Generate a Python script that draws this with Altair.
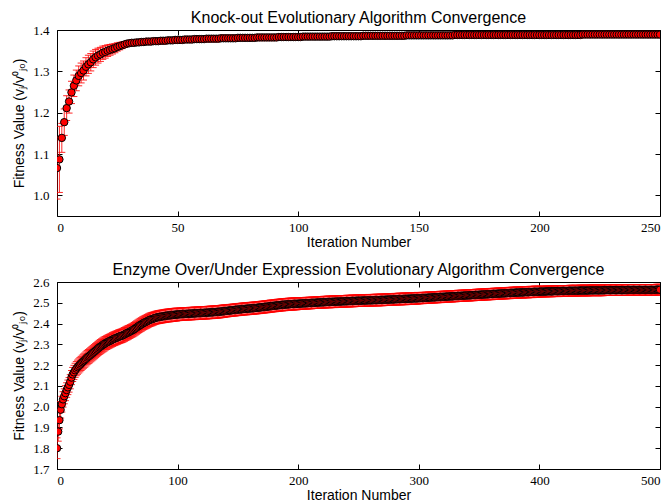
import altair as alt
import pandas as pd

# ---------------- Knock-out panel ----------------
ko_iter = list(range(251))
ko_fitness = [
    1.066, 1.087, 1.139, 1.177, 1.211, 1.227, 1.249, 1.265, 1.278, 1.289,
    1.296, 1.302, 1.311, 1.317, 1.322, 1.329, 1.334, 1.338, 1.341, 1.345,
    1.347, 1.350, 1.352, 1.354, 1.356, 1.359, 1.361, 1.363, 1.365, 1.367,
    1.368, 1.369, 1.369, 1.370, 1.370, 1.371, 1.371, 1.372, 1.372, 1.372,
    1.373, 1.373, 1.373, 1.374, 1.374, 1.374, 1.375, 1.375, 1.375, 1.376,
    1.376, 1.376, 1.376, 1.377, 1.377, 1.377, 1.377, 1.378, 1.378, 1.378,
    1.378, 1.378, 1.379, 1.379, 1.379, 1.379, 1.379, 1.379, 1.380, 1.380,
    1.380, 1.380, 1.380, 1.380, 1.380, 1.381, 1.381, 1.381, 1.381, 1.381,
    1.381, 1.381, 1.381, 1.382, 1.382, 1.382, 1.382, 1.382, 1.382, 1.382,
    1.382, 1.382, 1.383, 1.383, 1.383, 1.383, 1.383, 1.383, 1.383, 1.383,
    1.383, 1.383, 1.384, 1.384, 1.384, 1.384, 1.384, 1.384, 1.384, 1.384,
    1.384, 1.384, 1.384, 1.384, 1.385, 1.385, 1.385, 1.385, 1.385, 1.385,
    1.385, 1.385, 1.385, 1.385, 1.385, 1.385, 1.385, 1.386, 1.386, 1.386,
    1.386, 1.386, 1.386, 1.386, 1.386, 1.386, 1.386, 1.386, 1.386, 1.386,
    1.386, 1.386, 1.386, 1.386, 1.386, 1.387, 1.387, 1.387, 1.387, 1.387,
    1.387, 1.387, 1.387, 1.387, 1.387, 1.387, 1.387, 1.387, 1.387, 1.387,
    1.387, 1.387, 1.387, 1.387, 1.387, 1.388, 1.388, 1.388, 1.388, 1.388,
    1.388, 1.388, 1.388, 1.388, 1.388, 1.388, 1.388, 1.388, 1.388, 1.388,
    1.388, 1.388, 1.388, 1.388, 1.388, 1.388, 1.388, 1.388, 1.388, 1.388,
    1.388, 1.388, 1.388, 1.388, 1.388, 1.388, 1.388, 1.388, 1.388, 1.388,
    1.388, 1.388, 1.388, 1.388, 1.388, 1.388, 1.388, 1.388, 1.388, 1.388,
    1.388, 1.388, 1.388, 1.388, 1.388, 1.388, 1.388, 1.388, 1.389, 1.389,
    1.389, 1.389, 1.389, 1.389, 1.389, 1.389, 1.389, 1.389, 1.389, 1.389,
    1.389, 1.389, 1.389, 1.389, 1.389, 1.389, 1.389, 1.389, 1.389, 1.389,
    1.389, 1.389, 1.389, 1.389, 1.389, 1.389, 1.389, 1.389, 1.389, 1.389,
    1.389,
]
ko_err = [
    0.075, 0.080, 0.035, 0.032, 0.030, 0.028, 0.027, 0.026, 0.025, 0.024,
    0.024, 0.023, 0.022, 0.022, 0.021, 0.020, 0.019, 0.018, 0.017, 0.016,
    0.015, 0.014, 0.013, 0.012, 0.011, 0.010, 0.009, 0.008, 0.007, 0.006,
    0.006, 0.005, 0.005, 0.005, 0.004, 0.004, 0.004, 0.004, 0.004, 0.004,
    0.003, 0.003, 0.003, 0.003, 0.003, 0.003, 0.003, 0.003, 0.003, 0.003,
    0.003, 0.003, 0.003, 0.003, 0.003, 0.003, 0.003, 0.003, 0.003, 0.003,
    0.003, 0.003, 0.003, 0.003, 0.003, 0.003, 0.003, 0.003, 0.003, 0.003,
    0.003, 0.003, 0.003, 0.003, 0.003, 0.003, 0.003, 0.003, 0.003, 0.003,
    0.003, 0.003, 0.003, 0.003, 0.003, 0.003, 0.003, 0.003, 0.003, 0.003,
    0.003, 0.003, 0.003, 0.003, 0.003, 0.003, 0.003, 0.003, 0.003, 0.003,
    0.002, 0.002, 0.002, 0.002, 0.002, 0.002, 0.002, 0.002, 0.002, 0.002,
    0.002, 0.002, 0.002, 0.002, 0.002, 0.002, 0.002, 0.002, 0.002, 0.002,
    0.002, 0.002, 0.002, 0.002, 0.002, 0.002, 0.002, 0.002, 0.002, 0.002,
    0.002, 0.002, 0.002, 0.002, 0.002, 0.002, 0.002, 0.002, 0.002, 0.002,
    0.002, 0.002, 0.002, 0.002, 0.002, 0.002, 0.002, 0.002, 0.002, 0.002,
    0.002, 0.002, 0.002, 0.002, 0.002, 0.002, 0.002, 0.002, 0.002, 0.002,
    0.002, 0.002, 0.002, 0.002, 0.002, 0.002, 0.002, 0.002, 0.002, 0.002,
    0.002, 0.002, 0.002, 0.002, 0.002, 0.002, 0.002, 0.002, 0.002, 0.002,
    0.002, 0.002, 0.002, 0.002, 0.002, 0.002, 0.002, 0.002, 0.002, 0.002,
    0.002, 0.002, 0.002, 0.002, 0.002, 0.002, 0.002, 0.002, 0.002, 0.002,
    0.002, 0.002, 0.002, 0.002, 0.002, 0.002, 0.002, 0.002, 0.002, 0.002,
    0.002, 0.002, 0.002, 0.002, 0.002, 0.002, 0.002, 0.002, 0.002, 0.002,
    0.002, 0.002, 0.002, 0.002, 0.002, 0.002, 0.002, 0.002, 0.002, 0.002,
    0.002, 0.002, 0.002, 0.002, 0.002, 0.002, 0.002, 0.002, 0.002, 0.002,
    0.002, 0.002, 0.002, 0.002, 0.002, 0.002, 0.002, 0.002, 0.002, 0.002,
    0.002,
]
ko_xticks = [0, 50, 100, 150, 200, 250]
ko_yticks = [1.0, 1.1, 1.2, 1.3, 1.4]

# ---------------- Enzyme expression panel ----------------
ee_iter = list(range(501))
ee_fitness = [
    1.800, 1.880, 1.935, 1.985, 2.012, 2.035, 2.050, 2.065, 2.080, 2.093,
    2.105, 2.120, 2.140, 2.155, 2.165, 2.175, 2.183, 2.190, 2.196, 2.202,
    2.208, 2.214, 2.219, 2.224, 2.230, 2.236, 2.241, 2.245, 2.250, 2.255,
    2.260, 2.265, 2.270, 2.275, 2.280, 2.285, 2.289, 2.293, 2.297, 2.301,
    2.305, 2.308, 2.311, 2.314, 2.317, 2.320, 2.323, 2.326, 2.328, 2.331,
    2.333, 2.336, 2.338, 2.340, 2.342, 2.345, 2.348, 2.351, 2.354, 2.357,
    2.360, 2.363, 2.366, 2.369, 2.373, 2.377, 2.381, 2.385, 2.389, 2.393,
    2.396, 2.400, 2.403, 2.406, 2.409, 2.412, 2.415, 2.418, 2.420, 2.422,
    2.424, 2.426, 2.428, 2.430, 2.431, 2.432, 2.433, 2.434, 2.435, 2.436,
    2.437, 2.438, 2.439, 2.439, 2.440, 2.441, 2.441, 2.442, 2.443, 2.443,
    2.444, 2.444, 2.445, 2.445, 2.446, 2.446, 2.446, 2.447, 2.447, 2.447,
    2.448, 2.448, 2.448, 2.449, 2.449, 2.449, 2.450, 2.450, 2.450, 2.451,
    2.451, 2.451, 2.452, 2.452, 2.452, 2.453, 2.453, 2.454, 2.454, 2.454,
    2.455, 2.455, 2.456, 2.456, 2.457, 2.457, 2.458, 2.459, 2.459, 2.460,
    2.461, 2.461, 2.462, 2.463, 2.463, 2.464, 2.465, 2.465, 2.466, 2.467,
    2.467, 2.468, 2.468, 2.469, 2.470, 2.470, 2.471, 2.471, 2.472, 2.472,
    2.473, 2.473, 2.474, 2.474, 2.475, 2.475, 2.476, 2.477, 2.477, 2.478,
    2.479, 2.479, 2.480, 2.481, 2.481, 2.482, 2.483, 2.484, 2.484, 2.485,
    2.486, 2.486, 2.487, 2.488, 2.488, 2.489, 2.490, 2.490, 2.491, 2.491,
    2.492, 2.492, 2.493, 2.493, 2.494, 2.494, 2.494, 2.495, 2.495, 2.495,
    2.496, 2.496, 2.496, 2.497, 2.497, 2.497, 2.498, 2.498, 2.498, 2.499,
    2.499, 2.499, 2.500, 2.500, 2.500, 2.501, 2.501, 2.501, 2.502, 2.502,
    2.502, 2.503, 2.503, 2.503, 2.504, 2.504, 2.504, 2.504, 2.505, 2.505,
    2.505, 2.505, 2.506, 2.506, 2.506, 2.506, 2.507, 2.507, 2.507, 2.507,
    2.508, 2.508, 2.508, 2.508, 2.509, 2.509, 2.509, 2.509, 2.510, 2.510,
    2.510, 2.510, 2.510, 2.511, 2.511, 2.511, 2.511, 2.511, 2.512, 2.512,
    2.512, 2.512, 2.512, 2.513, 2.513, 2.513, 2.513, 2.513, 2.514, 2.514,
    2.514, 2.514, 2.515, 2.515, 2.515, 2.515, 2.516, 2.516, 2.516, 2.516,
    2.517, 2.517, 2.517, 2.518, 2.518, 2.518, 2.518, 2.519, 2.519, 2.519,
    2.519, 2.520, 2.520, 2.520, 2.520, 2.521, 2.521, 2.521, 2.521, 2.522,
    2.522, 2.522, 2.523, 2.523, 2.523, 2.524, 2.524, 2.524, 2.525, 2.525,
    2.525, 2.526, 2.526, 2.526, 2.527, 2.527, 2.527, 2.528, 2.528, 2.528,
    2.529, 2.529, 2.529, 2.530, 2.530, 2.530, 2.531, 2.531, 2.531, 2.532,
    2.532, 2.532, 2.533, 2.533, 2.533, 2.534, 2.534, 2.534, 2.535, 2.535,
    2.535, 2.536, 2.536, 2.536, 2.537, 2.537, 2.537, 2.538, 2.538, 2.538,
    2.539, 2.539, 2.539, 2.540, 2.540, 2.540, 2.541, 2.541, 2.541, 2.542,
    2.542, 2.542, 2.543, 2.543, 2.543, 2.544, 2.544, 2.544, 2.545, 2.545,
    2.545, 2.546, 2.546, 2.546, 2.547, 2.547, 2.547, 2.548, 2.548, 2.548,
    2.549, 2.549, 2.549, 2.549, 2.550, 2.550, 2.550, 2.550, 2.551, 2.551,
    2.551, 2.551, 2.552, 2.552, 2.552, 2.552, 2.553, 2.553, 2.553, 2.553,
    2.553, 2.554, 2.554, 2.554, 2.554, 2.554, 2.555, 2.555, 2.555, 2.555,
    2.555, 2.555, 2.556, 2.556, 2.556, 2.556, 2.556, 2.556, 2.557, 2.557,
    2.557, 2.557, 2.557, 2.557, 2.557, 2.558, 2.558, 2.558, 2.558, 2.558,
    2.558, 2.558, 2.558, 2.559, 2.559, 2.559, 2.559, 2.559, 2.559, 2.559,
    2.559, 2.559, 2.560, 2.560, 2.560, 2.560, 2.560, 2.560, 2.560, 2.560,
    2.560, 2.560, 2.560, 2.560, 2.561, 2.561, 2.561, 2.561, 2.561, 2.561,
    2.561, 2.561, 2.561, 2.561, 2.561, 2.561, 2.561, 2.561, 2.561, 2.561,
    2.561, 2.561, 2.561, 2.562, 2.562, 2.562, 2.562, 2.562, 2.562, 2.562,
    2.562, 2.562, 2.562, 2.562, 2.562, 2.562, 2.562, 2.562, 2.562, 2.562,
    2.562, 2.562, 2.562, 2.562, 2.562, 2.562, 2.562, 2.563, 2.563, 2.563,
    2.563,
]
ee_err = [
    0.050, 0.046, 0.042, 0.040, 0.038, 0.037, 0.036, 0.036, 0.035, 0.035, 0.035, 0.034, 0.034, 0.034, 0.034, 0.034, 0.034, 0.034, 0.034, 0.034,
    0.034, 0.034, 0.034, 0.034, 0.034, 0.034, 0.034, 0.034, 0.034, 0.034, 0.034, 0.034, 0.034, 0.034, 0.034, 0.034, 0.034, 0.034, 0.034, 0.034,
    0.033, 0.033, 0.033, 0.033, 0.033, 0.033, 0.033, 0.033, 0.033, 0.033, 0.033, 0.033, 0.033, 0.033, 0.033, 0.033, 0.033, 0.033, 0.033, 0.033,
    0.032, 0.032, 0.032, 0.032, 0.032, 0.032, 0.032, 0.032, 0.032, 0.032, 0.032, 0.032, 0.032, 0.032, 0.032, 0.032, 0.032, 0.032, 0.032, 0.032,
    0.031, 0.031, 0.031, 0.031, 0.031, 0.031, 0.031, 0.031, 0.031, 0.031, 0.031, 0.031, 0.031, 0.031, 0.031, 0.031, 0.031, 0.031, 0.031, 0.031,
    0.030, 0.030, 0.030, 0.030, 0.030, 0.030, 0.030, 0.030, 0.030, 0.030, 0.030, 0.030, 0.030, 0.030, 0.030, 0.030, 0.030, 0.030, 0.030, 0.030,
    0.030, 0.030, 0.030, 0.030, 0.030, 0.030, 0.030, 0.030, 0.030, 0.030, 0.030, 0.030, 0.030, 0.030, 0.030, 0.030, 0.030, 0.030, 0.030, 0.030,
    0.029, 0.029, 0.029, 0.029, 0.029, 0.029, 0.029, 0.029, 0.029, 0.029, 0.029, 0.029, 0.029, 0.029, 0.029, 0.029, 0.029, 0.029, 0.029, 0.029,
    0.029, 0.029, 0.029, 0.029, 0.029, 0.029, 0.029, 0.029, 0.029, 0.029, 0.029, 0.029, 0.029, 0.029, 0.029, 0.029, 0.029, 0.029, 0.029, 0.029,
    0.029, 0.029, 0.029, 0.029, 0.029, 0.029, 0.029, 0.029, 0.029, 0.029, 0.029, 0.029, 0.029, 0.029, 0.029, 0.029, 0.029, 0.029, 0.029, 0.029,
    0.028, 0.028, 0.028, 0.028, 0.028, 0.028, 0.028, 0.028, 0.028, 0.028, 0.028, 0.028, 0.028, 0.028, 0.028, 0.028, 0.028, 0.028, 0.028, 0.028,
    0.028, 0.028, 0.028, 0.028, 0.028, 0.028, 0.028, 0.028, 0.028, 0.028, 0.028, 0.028, 0.028, 0.028, 0.028, 0.028, 0.028, 0.028, 0.028, 0.028,
    0.028, 0.028, 0.028, 0.028, 0.028, 0.028, 0.028, 0.028, 0.028, 0.028, 0.028, 0.028, 0.028, 0.028, 0.028, 0.028, 0.028, 0.028, 0.028, 0.028,
    0.028, 0.028, 0.028, 0.028, 0.028, 0.028, 0.028, 0.028, 0.028, 0.028, 0.028, 0.028, 0.028, 0.028, 0.028, 0.028, 0.028, 0.028, 0.028, 0.028,
    0.028, 0.028, 0.028, 0.028, 0.028, 0.028, 0.028, 0.028, 0.028, 0.028, 0.028, 0.028, 0.028, 0.028, 0.028, 0.028, 0.028, 0.028, 0.028, 0.028,
    0.027, 0.027, 0.027, 0.027, 0.027, 0.027, 0.027, 0.027, 0.027, 0.027, 0.027, 0.027, 0.027, 0.027, 0.027, 0.027, 0.027, 0.027, 0.027, 0.027,
    0.027, 0.027, 0.027, 0.027, 0.027, 0.027, 0.027, 0.027, 0.027, 0.027, 0.027, 0.027, 0.027, 0.027, 0.027, 0.027, 0.027, 0.027, 0.027, 0.027,
    0.027, 0.027, 0.027, 0.027, 0.027, 0.027, 0.027, 0.027, 0.027, 0.027, 0.027, 0.027, 0.027, 0.027, 0.027, 0.027, 0.027, 0.027, 0.027, 0.027,
    0.027, 0.027, 0.027, 0.027, 0.027, 0.027, 0.027, 0.027, 0.027, 0.027, 0.027, 0.027, 0.027, 0.027, 0.027, 0.027, 0.027, 0.027, 0.027, 0.027,
    0.027, 0.027, 0.027, 0.027, 0.027, 0.027, 0.027, 0.027, 0.027, 0.027, 0.027, 0.027, 0.027, 0.027, 0.027, 0.027, 0.027, 0.027, 0.027, 0.027,
    0.026, 0.026, 0.026, 0.026, 0.026, 0.026, 0.026, 0.026, 0.026, 0.026, 0.026, 0.026, 0.026, 0.026, 0.026, 0.026, 0.026, 0.026, 0.026, 0.026,
    0.026, 0.026, 0.026, 0.026, 0.026, 0.026, 0.026, 0.026, 0.026, 0.026, 0.026, 0.026, 0.026, 0.026, 0.026, 0.026, 0.026, 0.026, 0.026, 0.026,
    0.026, 0.026, 0.026, 0.026, 0.026, 0.026, 0.026, 0.026, 0.026, 0.026, 0.026, 0.026, 0.026, 0.026, 0.026, 0.026, 0.026, 0.026, 0.026, 0.026,
    0.026, 0.026, 0.026, 0.026, 0.026, 0.026, 0.026, 0.026, 0.026, 0.026, 0.026, 0.026, 0.026, 0.026, 0.026, 0.026, 0.026, 0.026, 0.026, 0.026,
    0.026, 0.026, 0.026, 0.026, 0.026, 0.026, 0.026, 0.026, 0.026, 0.026, 0.026, 0.026, 0.026, 0.026, 0.026, 0.026, 0.026, 0.026, 0.026, 0.026,
    0.026,
]
ee_xticks = [0, 100, 200, 300, 400, 500]
ee_yticks = [1.7, 1.8, 1.9, 2.0, 2.1, 2.2, 2.3, 2.4, 2.5, 2.6]

Y_TITLE = "Fitness Value (vⱼ/v⁰ⱼ₀)"

LABEL_FONT = "Liberation Serif"
TITLE_FONT = "Liberation Sans"


def ax(**kw):
    base = dict(grid=False, domain=False, offset=-5, tickSize=5, tickColor="black",
                labelFont=LABEL_FONT, labelFontSize=13, labelColor="black",
                titleFont=TITLE_FONT, titleFontSize=14, titleFontWeight="normal",
                titleColor="black")
    base.update(kw)
    return alt.Axis(**base)


def panel(iters, vals, errs, title, xdom, xticks, ydom, yticks, w, h):
    df = pd.DataFrame({"it": iters, "v": vals, "e": errs})
    df["lo"] = df["v"] - df["e"]
    df["hi"] = df["v"] + df["e"]
    xs = alt.Scale(domain=xdom, nice=False, zero=False)
    ys = alt.Scale(domain=ydom, nice=False, zero=False)
    base = alt.Chart(df)

    bars = base.mark_rule(color="#ff0000", strokeWidth=1, opacity=0.85, clip=True).encode(
        x=alt.X("it:Q", scale=xs, axis=ax(
            orient="bottom", values=xticks, title="Iteration Number",
            labelPadding=5, titlePadding=1, format="d")),
        y=alt.Y("lo:Q", scale=ys, axis=ax(
            orient="left", values=yticks, title=Y_TITLE,
            labelPadding=8, titlePadding=6, format=".1f")),
        y2="hi:Q",
    )
    caps_lo = base.mark_tick(orient="horizontal", color="#ff0000", size=7, thickness=1,
                             opacity=0.85, clip=True).encode(
        x=alt.X("it:Q", scale=xs, axis=ax(
            orient="top", values=xticks, labels=False, title=None)),
        y=alt.Y("lo:Q", scale=ys, axis=ax(
            orient="right", values=yticks, labels=False, title=None)),
    )
    caps_hi = base.mark_tick(orient="horizontal", color="#ff0000", size=7, thickness=1,
                             opacity=0.85, clip=True).encode(
        x=alt.X("it:Q", scale=xs, axis=None),
        y=alt.Y("hi:Q", scale=ys, axis=None),
    )
    pts = base.mark_point(shape="circle", filled=True, fill="#ff0000", stroke="#000000",
                          strokeWidth=1, size=55, opacity=1, clip=True).encode(
        x=alt.X("it:Q", scale=xs, axis=None),
        y=alt.Y("v:Q", scale=ys, axis=None),
    )
    return alt.layer(bars, caps_lo, caps_hi, pts).resolve_axis(
        x="independent", y="independent"
    ).properties(
        width=w, height=h,
        title=alt.Title(title, fontSize=16, font=TITLE_FONT, fontWeight="normal",
                        color="black", offset=-2, anchor="middle", frame="group"),
    )


top = panel(ko_iter, ko_fitness, ko_err,
            "Knock-out Evolutionary Algorithm Convergence",
            [0, 250], ko_xticks, [0.95, 1.4], ko_yticks, 603, 186)
bottom = panel(ee_iter, ee_fitness, ee_err,
               "Enzyme Over/Under Expression Evolutionary Algorithm Convergence",
               [0, 500], ee_xticks, [1.7, 2.6], ee_yticks, 603, 187)

chart = alt.vconcat(top, bottom, spacing=11).properties(
    padding={"left": 4, "top": 1, "right": 0, "bottom": 0},
    background="white",
).configure_view(
    stroke="black", strokeWidth=1
)

chart.save("out.html", embed_options={"renderer": "svg", "actions": False})
